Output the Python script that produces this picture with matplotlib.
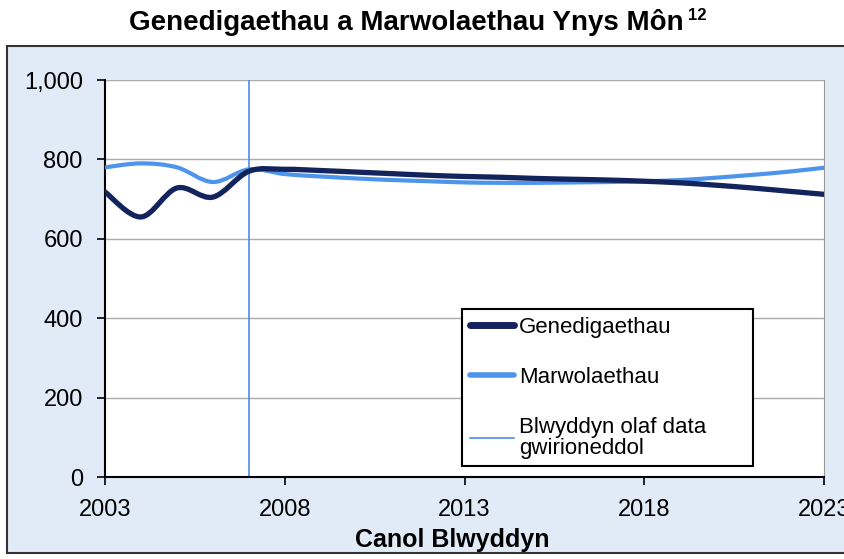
import numpy as np
import matplotlib.pyplot as plt
from matplotlib.path import Path
from matplotlib.patches import PathPatch, Rectangle
from matplotlib.lines import Line2D

plt.rcParams['font.family'] = ['Liberation Sans', 'DejaVu Sans']

# mid-year values
years = list(range(2003, 2024))
births = [718, 655, 728, 705, 770, 775, 772, 768, 764, 760, 757,
          755, 752, 750, 748, 745, 741, 735, 728, 720, 712]
deaths = [780, 790, 780, 743, 775, 763, 757, 752, 748, 745, 742,
          741, 741, 742, 743, 745, 748, 754, 761, 769, 779]
last_actual_year = 2007
x_ticks = [2003, 2008, 2013, 2018, 2023]
y_ticks = [0, 200, 400, 600, 800, 1000]
y_tick_labels = ['0', '200', '400', '600', '800', '1,000']

births_col = '#13235c'
deaths_col = '#4d94ec'
vline_col = '#4a8ee6'


def smooth_path(xs, ys):
    # Excel-like smoothed line: Catmull-Rom segments as cubic Beziers
    p = np.column_stack([xs, ys]).astype(float)
    ext = np.vstack([p[0], p, p[-1]])
    verts = [p[0]]
    codes = [Path.MOVETO]
    for i in range(1, len(ext) - 2):
        c1 = ext[i] + (ext[i + 1] - ext[i - 1]) / 6
        c2 = ext[i + 1] - (ext[i + 2] - ext[i]) / 6
        verts += [c1, c2, ext[i + 1]]
        codes += [Path.CURVE4] * 3
    return Path(verts, codes)


fig = plt.figure(figsize=(8.45, 5.59), dpi=100)
fig.patch.set_facecolor('white')

# outer chart box, behind the axes
fig.patches.append(Rectangle((7 / 845, 6 / 559), 845, 507 / 559,
                             transform=fig.transFigure, facecolor='#e1ebf7',
                             edgecolor='#333333', linewidth=1.5, zorder=-5))

ax = fig.add_axes([105 / 845, 1 - 477 / 559, 719 / 845, 397 / 559])
ax.set_facecolor('white')
ax.set_xlim(2003, 2023)
ax.set_ylim(0, 1000)

for v in y_ticks[1:]:
    ax.axhline(v, color='#ababab', linewidth=1, zorder=1)

ax.axvline(last_actual_year, color=vline_col, linewidth=1.2, zorder=2)

ax.add_patch(PathPatch(smooth_path(years, deaths), facecolor='none',
                       edgecolor=deaths_col, linewidth=3, zorder=3,
                       capstyle='round'))
ax.add_patch(PathPatch(smooth_path(years, births), facecolor='none',
                       edgecolor=births_col, linewidth=3.8, zorder=4,
                       capstyle='round'))

ax.set_xticks(x_ticks)
ax.set_yticks(y_ticks)
ax.set_yticklabels(y_tick_labels)
ax.tick_params(axis='both', direction='out', length=6, width=1.2,
               labelsize=17, colors='black')
ax.tick_params(axis='x', pad=10)
ax.tick_params(axis='y', pad=10)
ax.spines['top'].set_visible(False)
ax.spines['right'].set_color('#9a9a9a')
ax.spines['left'].set_linewidth(1.5)
ax.spines['bottom'].set_linewidth(1.5)

ax.set_xlabel('Canol Blwyddyn', fontsize=18, fontweight='bold')
ax.xaxis.set_label_coords(0.483, -0.128)

handles = [Line2D([], [], color=births_col, linewidth=5,
                  solid_capstyle='round'),
           Line2D([], [], color=deaths_col, linewidth=4,
                  solid_capstyle='round'),
           Line2D([], [], color=vline_col, linewidth=1.2)]
labels = ['Genedigaethau', 'Marwolaethau',
          'Blwyddyn olaf data\ngwirioneddol']
leg = ax.legend(handles, labels, loc='upper left', mode='expand',
                bbox_to_anchor=(462 / 845, 1 - 463 / 559, 291 / 845, 154 / 559),
                bbox_transform=fig.transFigure, fontsize=16,
                frameon=True, fancybox=False, edgecolor='black',
                handlelength=2.0, handletextpad=0.2, labelspacing=1.3,
                borderpad=0.35, borderaxespad=0, framealpha=1)
leg.get_frame().set_linewidth(1.5)
leg.set_zorder(5)
for t in leg.get_texts():
    t.set_linespacing(1.0)

title = fig.text(406 / 845, 1 - 23 / 559,
                 'Genedigaethau a Marwolaethau Ynys Môn',
                 fontsize=20, fontweight='bold', ha='center', va='center')
fig.canvas.draw()
bb = title.get_window_extent()
fig.text((bb.x1 + 5) / 845, 1 - 16 / 559, '12', fontsize=12,
         fontweight='bold', ha='left', va='center')

fig.savefig('out.png', dpi=100)
